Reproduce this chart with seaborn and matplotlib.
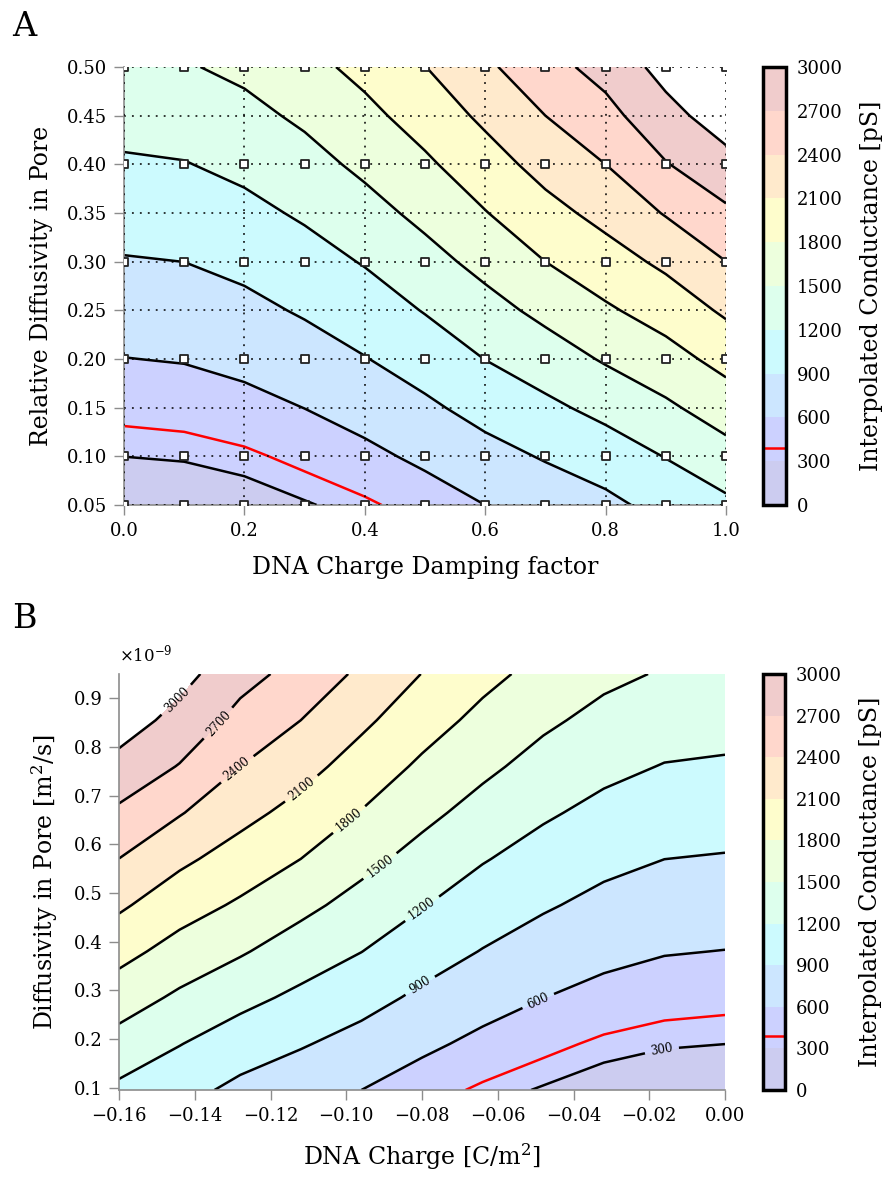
import numpy as np
import matplotlib
matplotlib.use("Agg")
import matplotlib.pyplot as plt
import seaborn as sns
import pandas as pd
from matplotlib.colors import ListedColormap, BoundaryNorm
from matplotlib.ticker import FixedFormatter, FixedLocator

# ---------------- data ----------------
damping = [0.0, 0.1, 0.2, 0.3, 0.4, 0.5, 0.6, 0.7, 0.8, 0.9, 1.0]
rel_diff = [0.05, 0.10, 0.15, 0.20, 0.25, 0.30, 0.35, 0.40, 0.45, 0.50]

# conductance [pS] along rel_diff for each damping factor
g_d00 = [154, 301, 444, 595, 738, 881, 1023, 1164, 1306, 1448]
g_d01 = [171, 316, 463, 615, 758, 901, 1045, 1188, 1332, 1476]
g_d02 = [216, 358, 518, 674, 825, 974, 1123, 1271, 1418, 1565]
g_d03 = [285, 437, 603, 768, 931, 1085, 1239, 1396, 1552, 1709]
g_d04 = [360, 534, 711, 889, 1054, 1219, 1394, 1564, 1723, 1883]
g_d05 = [467, 657, 847, 1032, 1215, 1398, 1577, 1751, 1926, 2095]
g_d06 = [600, 800, 1001, 1204, 1395, 1589, 1788, 1974, 2159, 2344]
g_d07 = [720, 924, 1137, 1355, 1576, 1800, 2003, 2203, 2400, 2600]
g_d08 = [830, 1045, 1285, 1530, 1760, 1975, 2190, 2400, 2610, 2800]
g_d09 = [995, 1210, 1450, 1690, 1925, 2160, 2420, 2685, 2900, 3104]
g_d10 = [1140, 1391, 1643, 1895, 2146, 2398, 2650, 2901, 3153, 3405]

# simulated sample points (markers)
sample_damping = [0.0, 0.1, 0.2, 0.3, 0.4, 0.5, 0.6, 0.7, 0.8, 0.9, 1.0]
sample_rel_diff = [0.05, 0.1, 0.2, 0.3, 0.4, 0.5]

# panel B axes: same samples in physical units (diffusivity in 1e-9 m^2/s)
dna_charge = [0.0, -0.016, -0.032, -0.048, -0.064, -0.08, -0.096, -0.112, -0.128, -0.144, -0.16]
diffusivity = [0.095, 0.19, 0.285, 0.38, 0.475, 0.57, 0.665, 0.76, 0.855, 0.95]

levels = [0, 300, 600, 900, 1200, 1500, 1800, 2100, 2400, 2700, 3000]
reference_level = [390]

xticksA = [0.0, 0.2, 0.4, 0.6, 0.8, 1.0]
yticksA = [0.05, 0.10, 0.15, 0.20, 0.25, 0.30, 0.35, 0.40, 0.45, 0.50]
xticksB = [-0.16, -0.14, -0.12, -0.10, -0.08, -0.06, -0.04, -0.02, 0.00]
yticksB = [0.1, 0.2, 0.3, 0.4, 0.5, 0.6, 0.7, 0.8, 0.9]

# label anchor positions for panel B contour labels
label_x = [-0.1448, -0.1338, -0.1288, -0.1127, -0.1003, -0.0920, -0.0807, -0.0807, -0.0497, -0.0167]
label_y = [0.8966, 0.8487, 0.7544, 0.722, 0.661, 0.5648, 0.476, 0.312, 0.2846, 0.1785]

# ---------------- style ----------------
sns.set_theme(style="white")
plt.rcParams["font.family"] = ["DejaVu Serif"]
plt.rcParams["mathtext.fontset"] = "dejavuserif"
plt.rcParams["text.color"] = "black"
plt.rcParams["axes.labelcolor"] = "black"
plt.rcParams["xtick.color"] = "black"
plt.rcParams["ytick.color"] = "black"

Z = np.array([g_d00, g_d01, g_d02, g_d03, g_d04, g_d05, g_d06, g_d07, g_d08, g_d09, g_d10], dtype=float).T

base = plt.get_cmap("jet")(np.linspace(0.05, 0.95, 10))
pastel = 0.8 + 0.2 * base[:, :3]
cmap = ListedColormap(pastel)
norm = BoundaryNorm(levels, cmap.N)

fig = plt.figure(figsize=(8.85, 11.79), dpi=100)
W, H = 885.0, 1179.0

def box(l, t, r, b):
    return [l / W, 1 - b / H, (r - l) / W, (b - t) / H]

grey = "#8c8c8c"
tick_fs = 13
lab_fs = 17
lw = 1.8

def style_axes(ax):
    for s in ["top", "right"]:
        ax.spines[s].set_visible(False)
    for s in ["left", "bottom"]:
        ax.spines[s].set_color(grey)
        ax.spines[s].set_linewidth(1.2)
    ax.tick_params(axis="both", direction="out", length=7, width=1.0, color=grey,
                   labelsize=tick_fs, labelcolor="black", left=True, bottom=True, pad=5)

def style_cbar(cbar, cax):
    cbar.outline.set_linewidth(2.5)
    cbar.outline.set_edgecolor("black")
    cax.tick_params(direction="in", length=5, width=1.0, color="#444444",
                    labelsize=tick_fs, labelcolor="black", right=True, left=False, pad=8)
    cbar.set_label("Interpolated Conductance [pS]", fontsize=lab_fs, labelpad=12, color="black")

# ---------------- panel A ----------------
axA = fig.add_axes(box(124, 67, 726, 505))
cfA = axA.contourf(damping, rel_diff, Z, levels=levels, cmap=cmap, norm=norm)
axA.contour(damping, rel_diff, Z, levels=levels, colors="black", linewidths=lw)
redA = axA.contour(damping, rel_diff, Z, levels=reference_level, colors="red", linewidths=lw)
axA.set_xlim(0, 1.0)
axA.set_ylim(0.05, 0.5)
axA.xaxis.set_major_locator(FixedLocator(xticksA))
axA.xaxis.set_major_formatter(FixedFormatter(["%.1f" % v for v in xticksA]))
axA.yaxis.set_major_locator(FixedLocator(yticksA))
axA.yaxis.set_major_formatter(FixedFormatter(["%.2f" % v for v in yticksA]))
axA.set_axisbelow(False)
axA.grid(True, color="black", linestyle=(0, (1.2, 4)), linewidth=1.1, zorder=3)
pts = pd.DataFrame([(d, r) for r in sample_rel_diff for d in sample_damping], columns=["d", "r"])
sns.scatterplot(data=pts, x="d", y="r", ax=axA, marker="s", s=40, color="white",
                edgecolor="#222222", linewidth=1.3, zorder=5, clip_on=True, legend=False)
axA.set_xlabel("DNA Charge Damping factor", fontsize=lab_fs, labelpad=12)
axA.set_ylabel("Relative Diffusivity in Pore", fontsize=lab_fs, labelpad=10)
style_axes(axA)
fig.text(12 / W, 1 - 36 / H, "A", fontsize=24)

caxA = fig.add_axes(box(763, 67, 786, 505))
cbA = fig.colorbar(cfA, cax=caxA, ticks=levels)
cbA.add_lines(redA)
style_cbar(cbA, caxA)

# ---------------- panel B ----------------
axB = fig.add_axes(box(119, 674, 725, 1090))
cfB = axB.contourf(dna_charge, diffusivity, Z, levels=levels, cmap=cmap, norm=norm)
csB = axB.contour(dna_charge, diffusivity, Z, levels=levels[1:], colors="black", linewidths=lw)
redB = axB.contour(dna_charge, diffusivity, Z, levels=reference_level, colors="red", linewidths=lw)
axB.clabel(csB, inline=True, fontsize=8.5, fmt="%d", inline_spacing=6,
           manual=list(zip(label_x, label_y)))
axB.set_xlim(-0.16, 0.0)
axB.set_ylim(0.095, 0.95)
axB.xaxis.set_major_locator(FixedLocator(xticksB))
axB.xaxis.set_major_formatter(FixedFormatter([("%.2f" % v).replace("-", "\u2212") for v in xticksB]))
axB.yaxis.set_major_locator(FixedLocator(yticksB))
axB.yaxis.set_major_formatter(FixedFormatter(["%.1f" % v for v in yticksB]))
axB.set_xlabel("DNA Charge [C/m$^2$]", fontsize=lab_fs, labelpad=12)
axB.set_ylabel("Diffusivity in Pore [m$^2$/s]", fontsize=lab_fs, labelpad=10)
style_axes(axB)
axB.text(0.0, 1.02, r"$\times10^{-9}$", transform=axB.transAxes, fontsize=12,
         ha="left", va="bottom")
fig.text(12 / W, 1 - 628 / H, "B", fontsize=24)

caxB = fig.add_axes(box(763, 674, 785, 1090))
cbB = fig.colorbar(cfB, cax=caxB, ticks=levels)
cbB.add_lines(redB)
style_cbar(cbB, caxB)

fig.savefig("out.png", dpi=100)
